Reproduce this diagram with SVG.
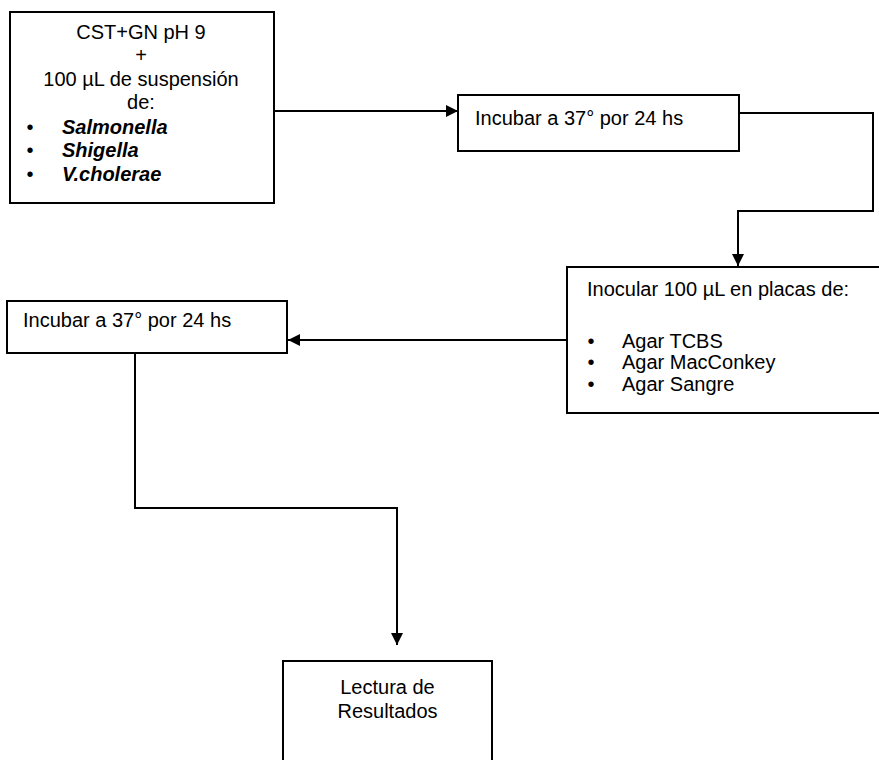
<svg xmlns="http://www.w3.org/2000/svg" width="879" height="760" viewBox="0 0 879 760">
<defs>
<style>
.box{fill:#fff;stroke:#000;stroke-width:2}
.ln{fill:none;stroke:#000;stroke-width:2}
text{font-family:"Liberation Sans",Arial,sans-serif;font-size:20px;fill:#000}
.c{text-anchor:middle}
.it{font-style:italic;font-weight:bold}
</style>
<marker id="ah" viewBox="0 0 12 12" refX="12" refY="6" markerWidth="12" markerHeight="12" markerUnits="userSpaceOnUse" orient="auto">
<path d="M0,0 L12,6 L0,12 Z" fill="#000"/>
</marker>
</defs>
<rect width="879" height="760" fill="#fff"/>
<g id="connectors">
<path class="ln" d="M274,111 H458" marker-end="url(#ah)"/>
<path class="ln" d="M739,113 H873 V211 H738 V266" marker-end="url(#ah)"/>
<path class="ln" d="M567,340 H288" marker-end="url(#ah)"/>
<path class="ln" d="M135,353 V508 H397 V645" marker-end="url(#ah)"/>
</g>
<g id="node1">
<rect class="box" x="10" y="12" width="264" height="191"/>
<text class="c" x="141" y="39">CST+GN pH 9</text>
<text class="c" x="141" y="62">+</text>
<text class="c" x="141" y="86">100 µL de suspensión</text>
<text class="c" x="141" y="109">de:</text>
<text x="30" y="134" class="c">•</text><text class="it" x="62" y="134">Salmonella</text>
<text x="30" y="157" class="c">•</text><text class="it" x="62" y="157">Shigella</text>
<text x="30" y="181" class="c">•</text><text class="it" x="62" y="181">V.cholerae</text>
</g>
<g id="node2">
<rect class="box" x="458" y="95" width="281" height="56"/>
<text x="475" y="125">Incubar a 37° por 24 hs</text>
</g>
<g id="node3">
<rect class="box" x="567" y="267" width="330" height="146"/>
<text x="587" y="296">Inocular 100 µL en placas de:</text>
<text x="591" y="348" class="c">•</text><text x="622" y="348">Agar TCBS</text>
<text x="591" y="369" class="c">•</text><text x="622" y="369">Agar MacConkey</text>
<text x="591" y="391" class="c">•</text><text x="622" y="391">Agar Sangre</text>
</g>
<g id="node4">
<rect class="box" x="7" y="301" width="280" height="52"/>
<text x="23" y="327">Incubar a 37° por 24 hs</text>
</g>
<g id="node5">
<rect class="box" x="283" y="661" width="209" height="110"/>
<text class="c" x="387.5" y="694">Lectura de</text>
<text class="c" x="387.5" y="718">Resultados</text>
</g>
</svg>
